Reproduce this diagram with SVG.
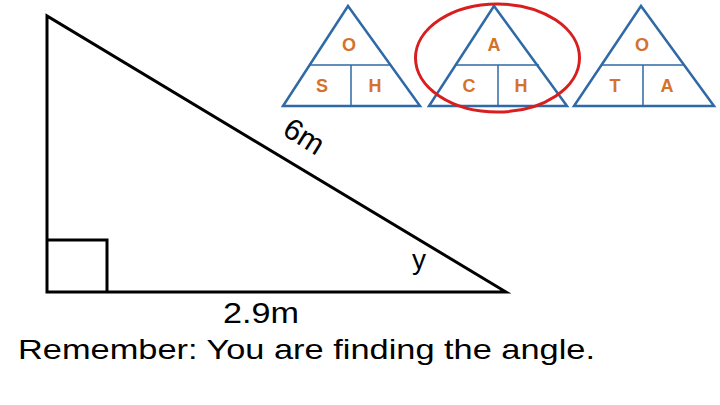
<svg xmlns="http://www.w3.org/2000/svg" width="720" height="405" viewBox="0 0 720 405">
<style>
.blk{fill:none;stroke:#000;stroke-width:3}
.tri{fill:none;stroke:#2f69a6;stroke-width:2.5;stroke-linejoin:miter}
.div{fill:none;stroke:#2f69a6;stroke-width:1.5}
.let{font-family:"Liberation Sans",Arial,sans-serif;font-weight:bold;font-size:18px;fill:#d4722c;text-anchor:middle}
.lbl{font-family:"Liberation Sans",Arial,sans-serif;fill:#000}
</style>
<rect width="720" height="405" fill="#fff"/>
<g id="main-triangle">
<path class="blk" d="M47,16 L47,292 L506,292 Z"/>
<path class="blk" d="M47,240 L107,240 L107,292"/>
</g>
<g id="soh">
<path class="tri" d="M348,6 L283,106 L420,106 Z"/>
<path class="div" d="M309,65 L391,65 M351,65 L351,106"/>
<text class="let" x="349" y="51">O</text>
<text class="let" x="322" y="92">S</text>
<text class="let" x="375" y="92">H</text>
</g>
<g id="cah">
<path class="tri" d="M494,6 L429,106 L567,106 Z"/>
<path class="div" d="M455,65 L539,65 M498,65 L498,106"/>
<text class="let" x="494" y="51">A</text>
<text class="let" x="469" y="92">C</text>
<text class="let" x="521" y="92">H</text>
</g>
<g id="toa">
<path class="tri" d="M641,6 L574,106 L714,106 Z"/>
<path class="div" d="M601,65 L683,65 M643,65 L643,106"/>
<text class="let" x="642" y="51">O</text>
<text class="let" x="615" y="92">T</text>
<text class="let" x="667" y="92">A</text>
</g>
<ellipse id="highlight" cx="497.5" cy="58" rx="82" ry="54" fill="none" stroke="#d81e1e" stroke-width="3"/>
<g id="labels">
<text class="lbl" font-size="30" transform="translate(281,134) rotate(32)">6m</text>
<text class="lbl" font-size="28" x="412" y="269">y</text>
<text class="lbl" font-size="30" x="261" y="323" text-anchor="middle" textLength="76" lengthAdjust="spacingAndGlyphs">2.9m</text>
<text class="lbl" font-size="28" x="18" y="359" textLength="577" lengthAdjust="spacingAndGlyphs">Remember: You are finding the angle.</text>
</g>
</svg>
